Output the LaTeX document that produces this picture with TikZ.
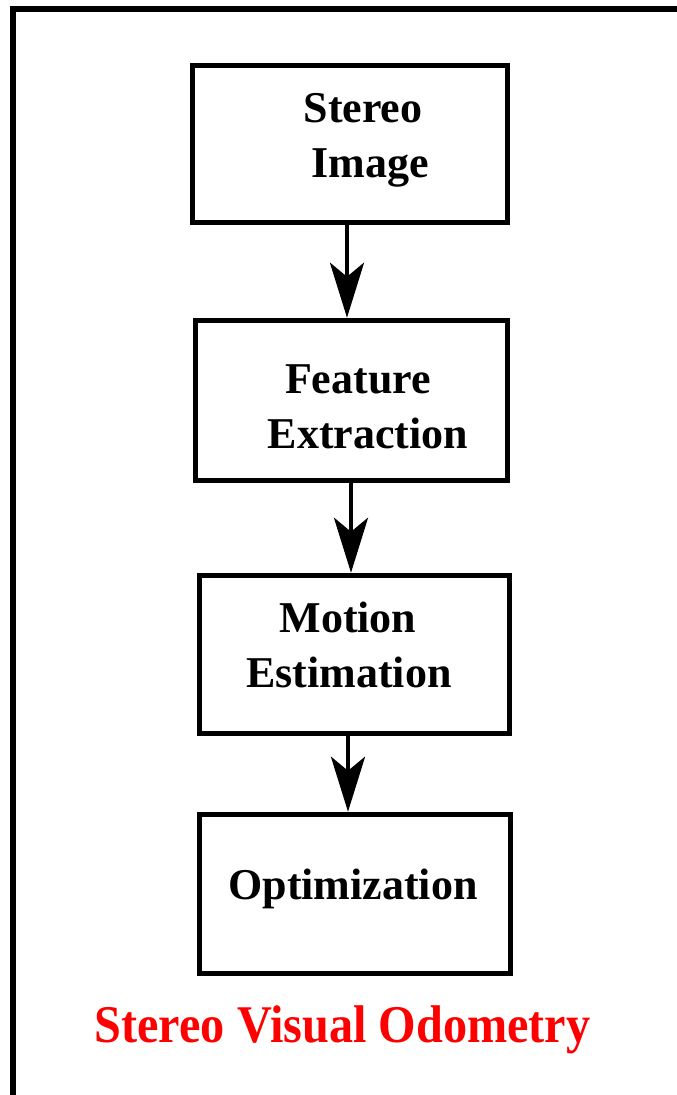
\documentclass[tikz,border=0pt]{standalone}
\usepackage{fontspec}
\setmainfont{Liberation Serif}
\usetikzlibrary{arrows.meta}
\begin{document}
\begin{tikzpicture}[x=1pt,y=-1pt,
  stagebox/.style={draw=black, line width=5.5pt, minimum width=#1, inner sep=0pt, line join=miter},
  stagetext/.style={anchor=base, inner sep=0pt, font=\fontsize{44}{55}\selectfont\bfseries},
  flow/.style={line width=4.5pt, -{Stealth[length=55pt, width=34pt, inset=14pt]}}]
  \useasboundingbox (0,0) rectangle (677,1095);
  % outer frame (top and left edges only)
  \draw[line width=6pt, line join=miter] (677,9) -- (13,9) -- (13,1095);

  % process boxes
  \node[stagebox=315pt, minimum height=157pt] (b1) at (350,144) {};
  \node[stagebox=312pt, minimum height=160pt] (b2) at (351.5,400.5) {};
  \node[stagebox=310pt, minimum height=158pt] (b3) at (354.5,654.5) {};
  \node[stagebox=311pt, minimum height=159pt] (b4) at (355,894) {};

  % box labels
  \node[stagetext] (t1a) at (363,122) {Stereo};
  \node[stagetext] (t1b) at (370,177) {Image};
  \node[stagetext] (t2a) at (358,393) {Feature};
  \node[stagetext] (t2b) at (368,448) {Extraction};
  \node[stagetext] (t3a) at (348,632) {Motion};
  \node[stagetext] (t3b) at (349,687) {Estimation};
  \node[stagetext] (t4a) at (353,899) {Optimization};

  % arrow start points (arrows run straight down from here)
  \coordinate (s1) at ([xshift=-3pt]b1.south);
  \coordinate (s2) at ([xshift=-0.5pt]b2.south);
  \coordinate (s3) at ([xshift=-6.5pt]b3.south);

  % flow arrows
  \draw[flow] (s1) -- (s1 |- b2.north);
  \draw[flow] (s2) -- (s2 |- b3.north);
  \draw[flow] (s3) -- (s3 |- b4.north);

  % caption
  \node[anchor=base, inner sep=0pt, text=red, font=\fontsize{53}{60}\selectfont\bfseries] (cap) at (342.5,1042)
    {\scalebox{0.91}[1]{Stereo Visual Odometry}};
\end{tikzpicture}
\end{document}
